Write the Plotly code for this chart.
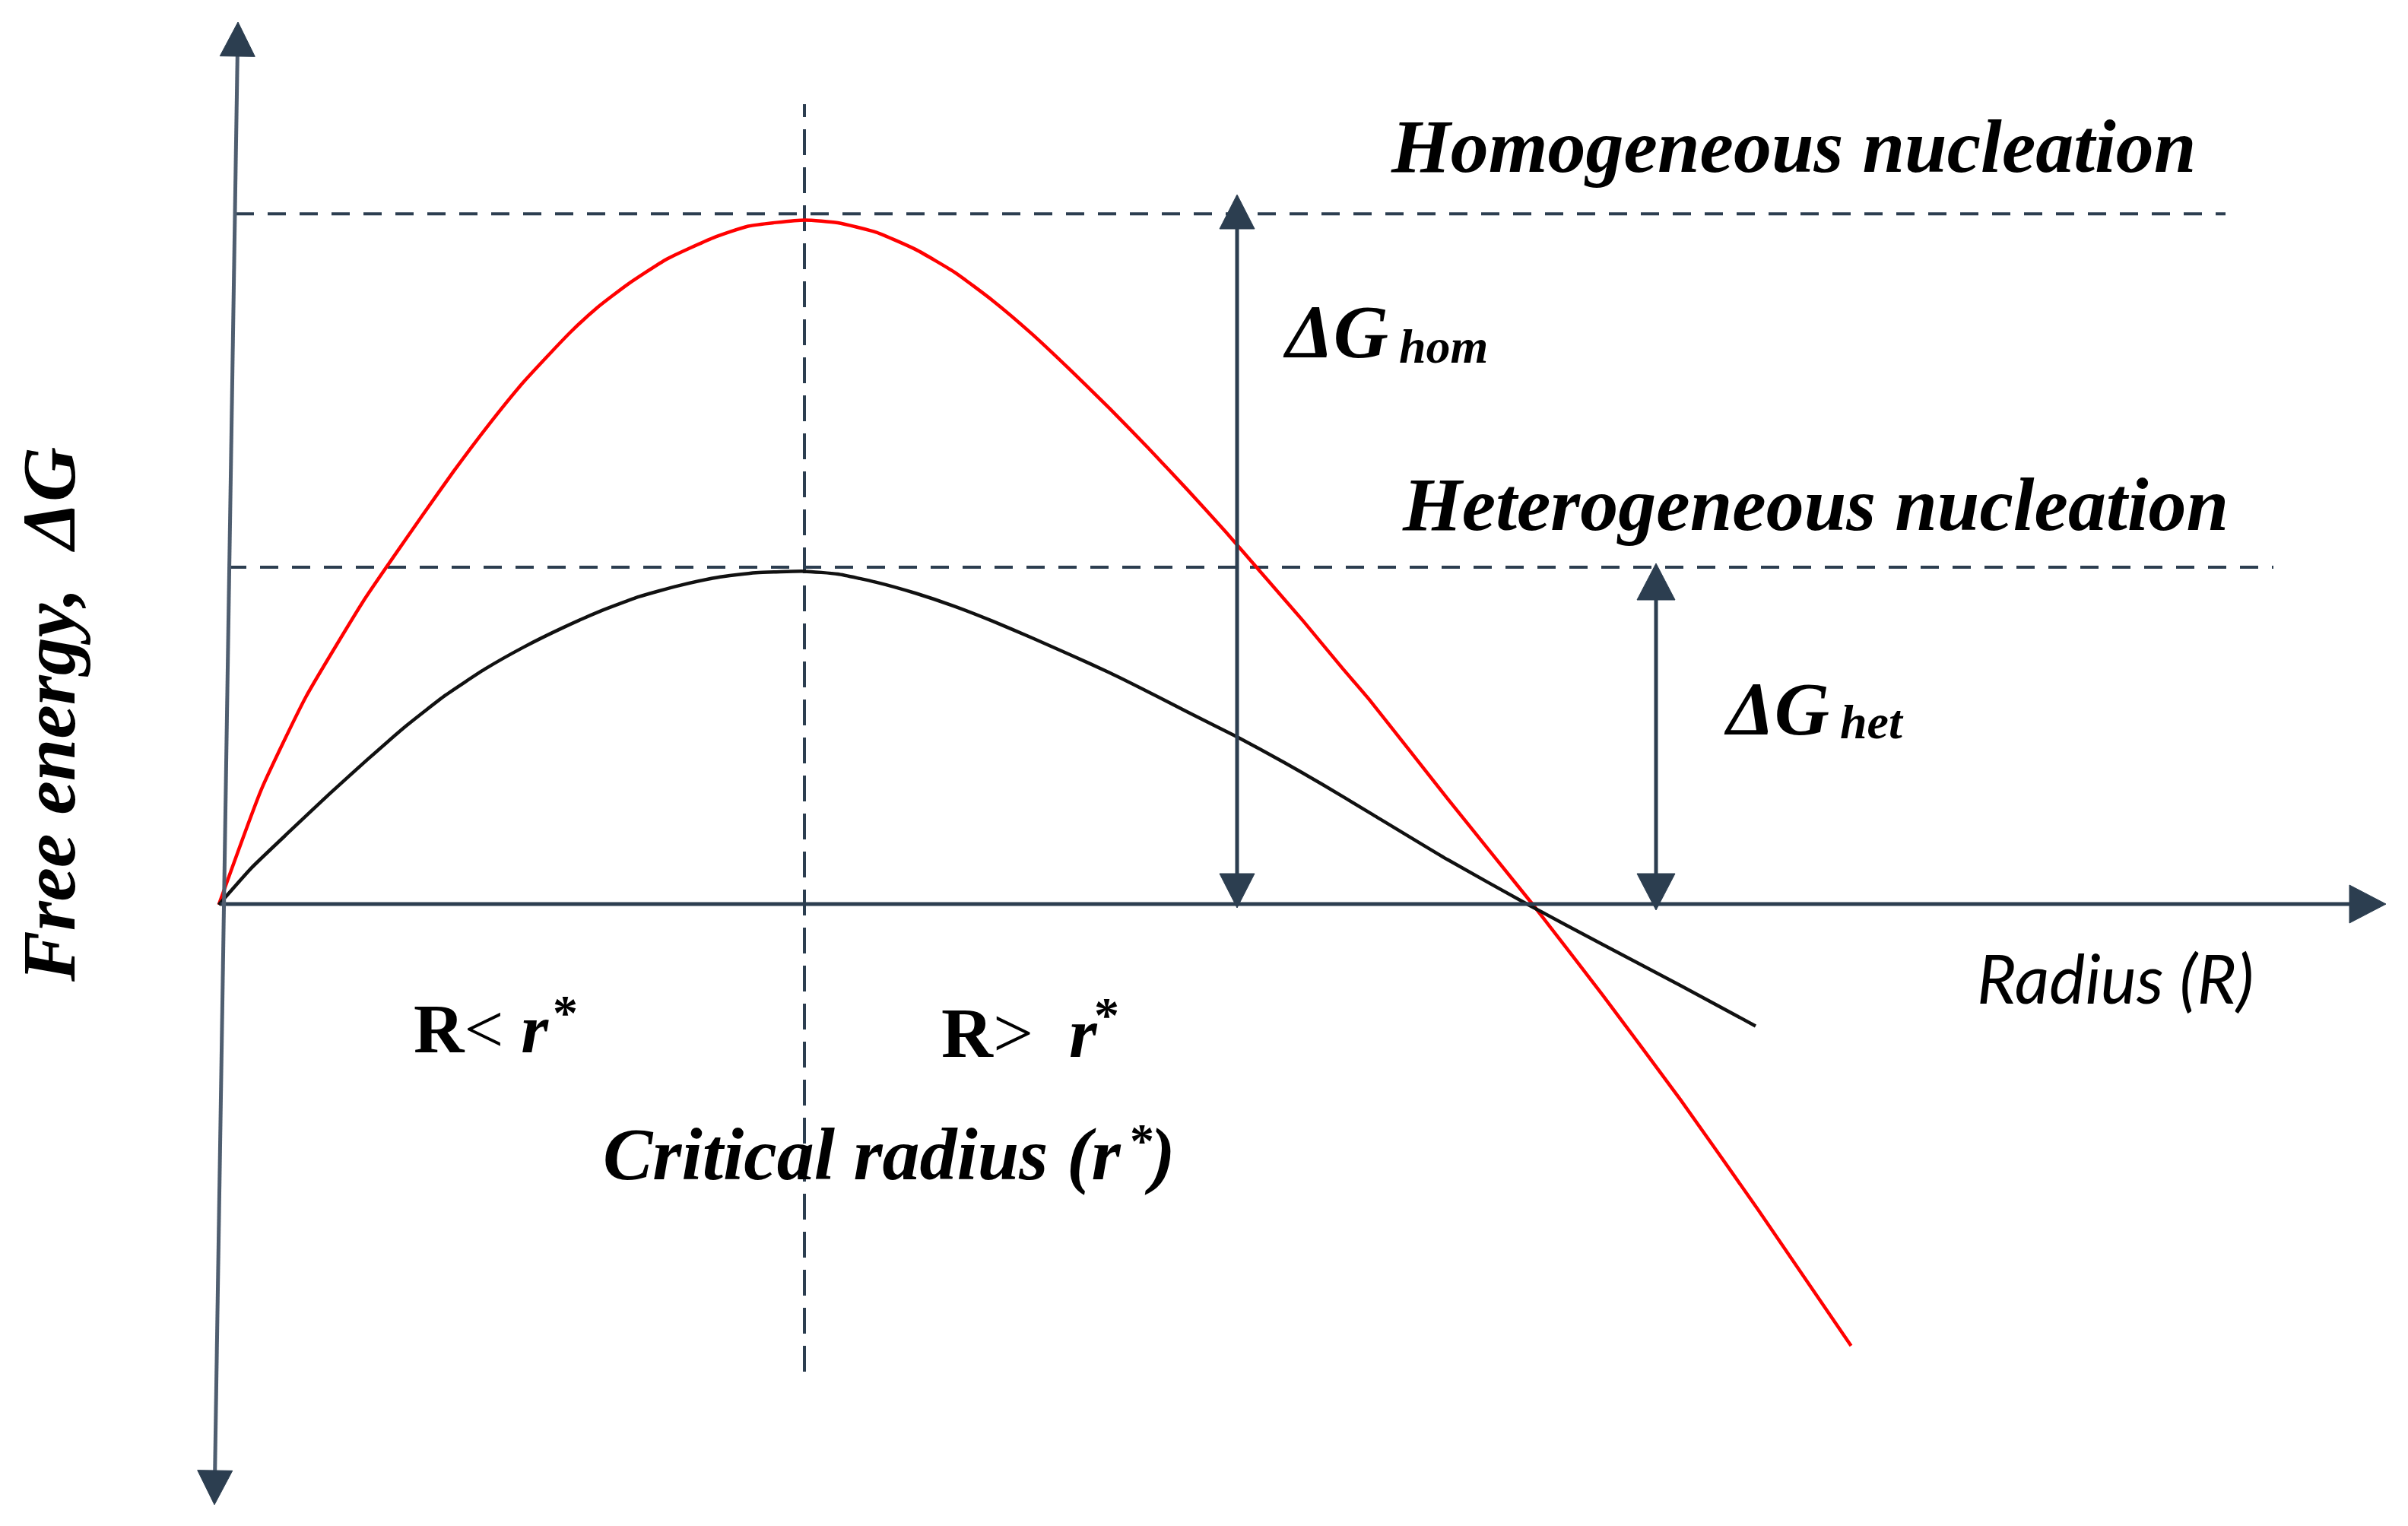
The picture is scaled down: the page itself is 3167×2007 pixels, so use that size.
import math
import plotly.graph_objects as go

# ---------------- data ----------------
# radius in units of the critical radius r*, free energy in units of dG_hom*
radius_hom = [0.0, 0.073, 0.149, 0.248, 0.295, 0.348, 0.401, 0.460, 0.520, 0.599,
              0.646, 0.698, 0.765, 0.844, 0.904, 1.0,
              1.057, 1.123, 1.190, 1.256, 1.322, 1.388, 1.454, 1.521, 1.587, 1.653,
              1.719, 1.785, 1.852, 1.918, 1.966, 2.098, 2.244, 2.363, 2.496, 2.628,
              2.787]
dg_hom = [0.0, 0.169, 0.304, 0.445, 0.504, 0.569, 0.633, 0.700, 0.763, 0.835,
          0.872, 0.906, 0.943, 0.974, 0.991, 1.0,
          0.996, 0.982, 0.957, 0.924, 0.882, 0.834, 0.781, 0.725, 0.667, 0.607,
          0.545, 0.480, 0.414, 0.346, 0.298, 0.155, 0.0, -0.132, -0.285, -0.445,
          -0.644]

radius_het = [0.0, 0.056, 0.122, 0.189, 0.255, 0.321, 0.387, 0.454, 0.520, 0.586,
              0.652, 0.718, 0.785, 0.851, 0.917, 1.0,
              1.057, 1.123, 1.190, 1.256, 1.322, 1.388, 1.454, 1.521, 1.587, 1.653,
              1.739, 1.819, 1.884, 1.966, 2.098, 2.236, 2.363, 2.496, 2.624]
dg_het = [0.0, 0.054, 0.108, 0.162, 0.213, 0.262, 0.306, 0.344, 0.376, 0.404,
          0.429, 0.450, 0.466, 0.478, 0.485, 0.487,
          0.483, 0.471, 0.455, 0.436, 0.414, 0.390, 0.365, 0.339, 0.311, 0.282,
          0.245, 0.208, 0.176, 0.134, 0.066, 0.0, -0.058, -0.118, -0.177]

r_critical = 1.0
barrier_hom = 1.009
barrier_het = 0.493

# ---------------- layout helpers ----------------
W, H = 3167, 2007
X0, SX = 287.7, 770.3     # pixel of r = 0, pixels per unit radius
Y0, SY = 1190.0, 900.6    # pixel of dG = 0, pixels per unit energy


def dx(X):
    return (X - X0) / SX


def dy(Y):
    return (Y0 - Y) / SY


def ppx(X):
    return X / W


def ppy(Y):
    return 1 - Y / H


AXC = "#2c3e50"
YAXC = "#4f5e70"
SERIF = "Liberation Serif, Times New Roman, serif"

fig = go.Figure()
fig.add_trace(go.Scatter(x=radius_hom, y=dg_hom, mode="lines",
                         line=dict(color="#ff0000", width=4.5, shape="spline", smoothing=0.5),
                         hoverinfo="skip", showlegend=False))
fig.add_trace(go.Scatter(x=radius_het, y=dg_het, mode="lines",
                         line=dict(color="#111111", width=4.5, shape="spline", smoothing=0.5),
                         hoverinfo="skip", showlegend=False))

shapes = [
    dict(type="line", xref="x", yref="y", x0=dx(310), x1=dx(2927), y0=barrier_hom, y1=barrier_hom,
         line=dict(color=AXC, width=4, dash="24px,18px"), layer="below"),
    dict(type="line", xref="x", yref="y", x0=dx(300), x1=dx(2990), y0=barrier_het, y1=barrier_het,
         line=dict(color=AXC, width=4, dash="24px,18px"), layer="below"),
    dict(type="line", xref="x", yref="y", x0=r_critical, x1=r_critical, y0=dy(1804), y1=dy(137),
         line=dict(color=AXC, width=4, dash="34px,16px"), layer="below"),
]


def arrow_line(P, Q, heads, color=AXC, head_color=AXC, width=5, length=46, half=24):
    """Straight arrow from pixel point P to pixel point Q, with triangular heads."""
    vx, vy = Q[0] - P[0], Q[1] - P[1]
    n = math.hypot(vx, vy)
    ux, uy = vx / n, vy / n
    nx, ny = -uy, ux
    out = []
    a = (P[0] + ux * length * 0.8, P[1] + uy * length * 0.8) if "start" in heads else P
    b = (Q[0] - ux * length * 0.8, Q[1] - uy * length * 0.8) if "end" in heads else Q
    out.append(dict(type="line", xref="x", yref="y", x0=dx(a[0]), y0=dy(a[1]),
                    x1=dx(b[0]), y1=dy(b[1]), line=dict(color=color, width=width)))
    for tip, sgn in ((Q, 1), (P, -1)):
        if (sgn == 1 and "end" in heads) or (sgn == -1 and "start" in heads):
            bx, by = tip[0] - sgn * ux * length, tip[1] - sgn * uy * length
            pts = [tip, (bx + nx * half, by + ny * half), (bx - nx * half, by - ny * half)]
            path = "M " + " L ".join(f"{dx(px_):.5f},{dy(py_):.5f}" for px_, py_ in pts) + " Z"
            out.append(dict(type="path", xref="x", yref="y", path=path,
                            fillcolor=head_color, line=dict(color=head_color, width=1)))
    return out


shapes += arrow_line((290, 1189), (3138, 1189), "end", length=48, half=25)
shapes += arrow_line((282, 1979), (313, 29), "start+end", color=YAXC, length=45, half=23)
shapes += arrow_line((1627, 1194), (1627, 256), "start+end", length=45, half=23)
shapes += arrow_line((2178, 1197), (2178, 741), "start+end", length=48, half=25)


def label(text, X, Y, size, family=SERIF, xanchor="left", angle=0):
    return dict(text=text, x=ppx(X), y=ppy(Y), xref="paper", yref="paper",
                showarrow=False, xanchor=xanchor, yanchor="middle", textangle=angle,
                font=dict(family=family, size=size, color="#000000"))


annotations = [
    label("<b><i>Homogeneous nucleation</i></b>", 2358, 192, 100, xanchor="center"),
    label("<b><i>Heterogeneous nucleation</i></b>", 2387, 663, 100, xanchor="center"),
    label("<b><i>ΔG</i></b>", 1685, 437, 100),
    label("<b><i>hom</i></b>", 1838, 455, 64),
    label("<b><i>ΔG</i></b>", 2265, 932, 100),
    label("<b><i>het</i></b>", 2418, 950, 64),
    label("<i>Radius (R)</i>", 2782, 1285, 89, family="Lato, Open Sans, sans-serif", xanchor="center"),
    # R < r*
    label("<b>R</b>&lt;\u00a0<b><i>r</i></b>", 542, 1353, 92),
    label("<b>*</b>", 743, 1331, 66, xanchor="center"),
    # R > r*
    label("<b>R</b>&gt;\u00a0\u00a0<b><i>r</i></b>", 1236, 1358, 94),
    label("<b>*</b>", 1455, 1334, 66, xanchor="center"),
    # Critical radius (r*)
    label("<b><i>Critical radius (r</i></b>", 791, 1518, 98),
    label("<b>*</b>", 1502, 1500, 64, xanchor="center"),
    label("<b><i>)</i></b>", 1548, 1518, 98, xanchor="right"),
    label("<b><i>Free energy,\u00a0\u00a0ΔG</i></b>", 64, 940, 100, xanchor="center", angle=-90),
]

fig.update_layout(
    width=W, height=H,
    margin=dict(l=0, r=0, t=0, b=0),
    paper_bgcolor="white", plot_bgcolor="white",
    xaxis=dict(visible=False, range=[dx(0), dx(W)], fixedrange=True),
    yaxis=dict(visible=False, range=[dy(H), dy(0)], fixedrange=True),
    shapes=shapes,
    annotations=annotations,
    showlegend=False,
)

fig.write_html("out.html", config={"displayModeBar": False},
               post_script="document.body.style.margin='0';document.body.style.overflow='hidden';")
